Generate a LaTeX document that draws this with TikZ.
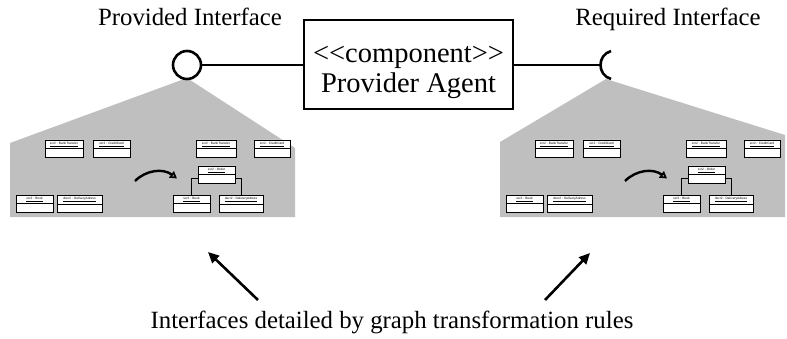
\documentclass[tikz,border=0pt]{standalone}
\usepackage{fontspec}
\setmainfont{Liberation Serif}
\setsansfont{Liberation Sans}
\newfontfamily\plainserif{Liberation Serif}
\usepackage{tikz}
\usetikzlibrary{arrows.meta, shapes.multipart}
\definecolor{rulezonefill}{gray}{0.75}
\tikzset{
  agtbox/.style    = {draw, line width=2.6pt, minimum width=209pt,
                      minimum height=89pt, inner sep=0pt},
  agtname/.style   = {font=\plainserif\fontsize{28.5}{31}\selectfont,
                      inner sep=0pt, anchor=base},
  agtlbl/.style    = {font=\fontsize{24.8}{28}\selectfont, inner sep=0pt,
                      anchor=base},
  agtline/.style   = {line width=2.6pt},
  agtprov/.style   = {draw, circle, line width=2.6pt, fill=white,
                      minimum size=28pt, inner sep=0pt},
  objbox/.style    = {draw, rectangle split, rectangle split parts=2,
                      fill=white, line width=0.8pt, inner xsep=1pt,
                      inner ysep=1.5pt,
                      font=\sffamily\fontsize{3.2}{3.5}\selectfont},
  objlink/.style   = {line width=0.8pt},
  rulearrow/.style = {line width=2.4pt, -{Triangle[open, length=7pt, width=8pt]}},
  hintarrow/.style = {line width=2.6pt, -{Triangle[length=11pt, width=10pt]}}
}
\newcommand{\objname}[1]{\rule[-0.8pt]{0pt}{3.2pt}\underline{#1}\nodepart{two}\rule{0pt}{5pt}}

\begin{document}
\begin{tikzpicture}[x=1pt, y=-1pt]
  \useasboundingbox (0,0) rectangle (787,338);

  % zones behind the two interfaces
  \fill[rulezonefill] (10,143) -- (187,78) -- (295,148) -- (295,217) -- (10,217) -- cycle;
  \fill[rulezonefill] (500,142) -- (606,79) -- (785,135) -- (785,217) -- (500,217) -- cycle;

  \node[agtbox] (agent) at (408.5,64.5) {};
  \node[agtname] (stereo) at (408.5,62) {<<component>>};
  \node[agtname] (agentname) at (408.5,92) {Provider Agent};

  \node[agtprov] (prov) at (187,65) {};
  \coordinate (req) at (600.5,65);
  \draw[agtline] (prov.east) -- (prov.east -| agent.west);
  \draw[agtline] (agent.east |- req) -- (req);
  \draw[agtline] (611,51) .. controls (597,55) and (597,75) .. (611,79);

  \node[agtlbl] (provlbl) at (190,25) {Provided Interface};
  \node[agtlbl] (reqlbl) at (668,25) {Required Interface};

  % one transformation rule per interface
  \foreach \dx/\g in {0/l, 490/r} {
    \begin{scope}[xshift=\dx pt]
      \node[objbox, minimum width=38pt] (\g bt1) at (64,148.5)   {\objname{scr2 : BankTransfer}};
      \node[objbox, minimum width=37pt] (\g cc1) at (111.5,148.5) {\objname{scr2 : CreditCard}};
      \node[objbox, minimum width=37pt] (\g bk1) at (34.5,204)    {\objname{scr2 : Book}};
      \node[objbox, minimum width=45pt] (\g da1) at (79.5,204)    {\objname{dscr2 : DeliveryAdress}};

      \node[objbox, minimum width=40pt] (\g bt2) at (216,148.5)   {\objname{scr2 : BankTransfer}};
      \node[objbox, minimum width=36pt] (\g cc2) at (272,148.5)   {\objname{scr2 : CreditCard}};
      \node[objbox, minimum width=37pt] (\g ord) at (216.5,174.5) {\objname{scr2 : Order}};
      \node[objbox, minimum width=37pt] (\g bk2) at (191.5,204)   {\objname{scr2 : Book}};
      \node[objbox, minimum width=44pt] (\g da2) at (241,204)     {\objname{dscr2 : DeliveryAdress}};

      \draw[objlink] ([yshift=-3.5pt]\g ord.west) -| (\g bk2.north);
      \draw[objlink] ([yshift=-3.5pt]\g ord.east) -| (\g da2.north);

      \coordinate (\g rs) at (135,181);
      \coordinate (\g re) at (177,178.5);
      \draw[rulearrow] (\g rs) .. controls (146,170) and (163,168) .. (\g re);
    \end{scope}
  }

  \node[agtlbl] (hint) at (392,328) {Interfaces detailed by graph transformation rules};
  \coordinate (lhs) at (258,300);
  \coordinate (lht) at (208,252);
  \coordinate (rhs) at (545,300);
  \coordinate (rht) at (590,253);
  \draw[hintarrow] (lhs) -- (lht);
  \draw[hintarrow] (rhs) -- (rht);
\end{tikzpicture}
\end{document}
